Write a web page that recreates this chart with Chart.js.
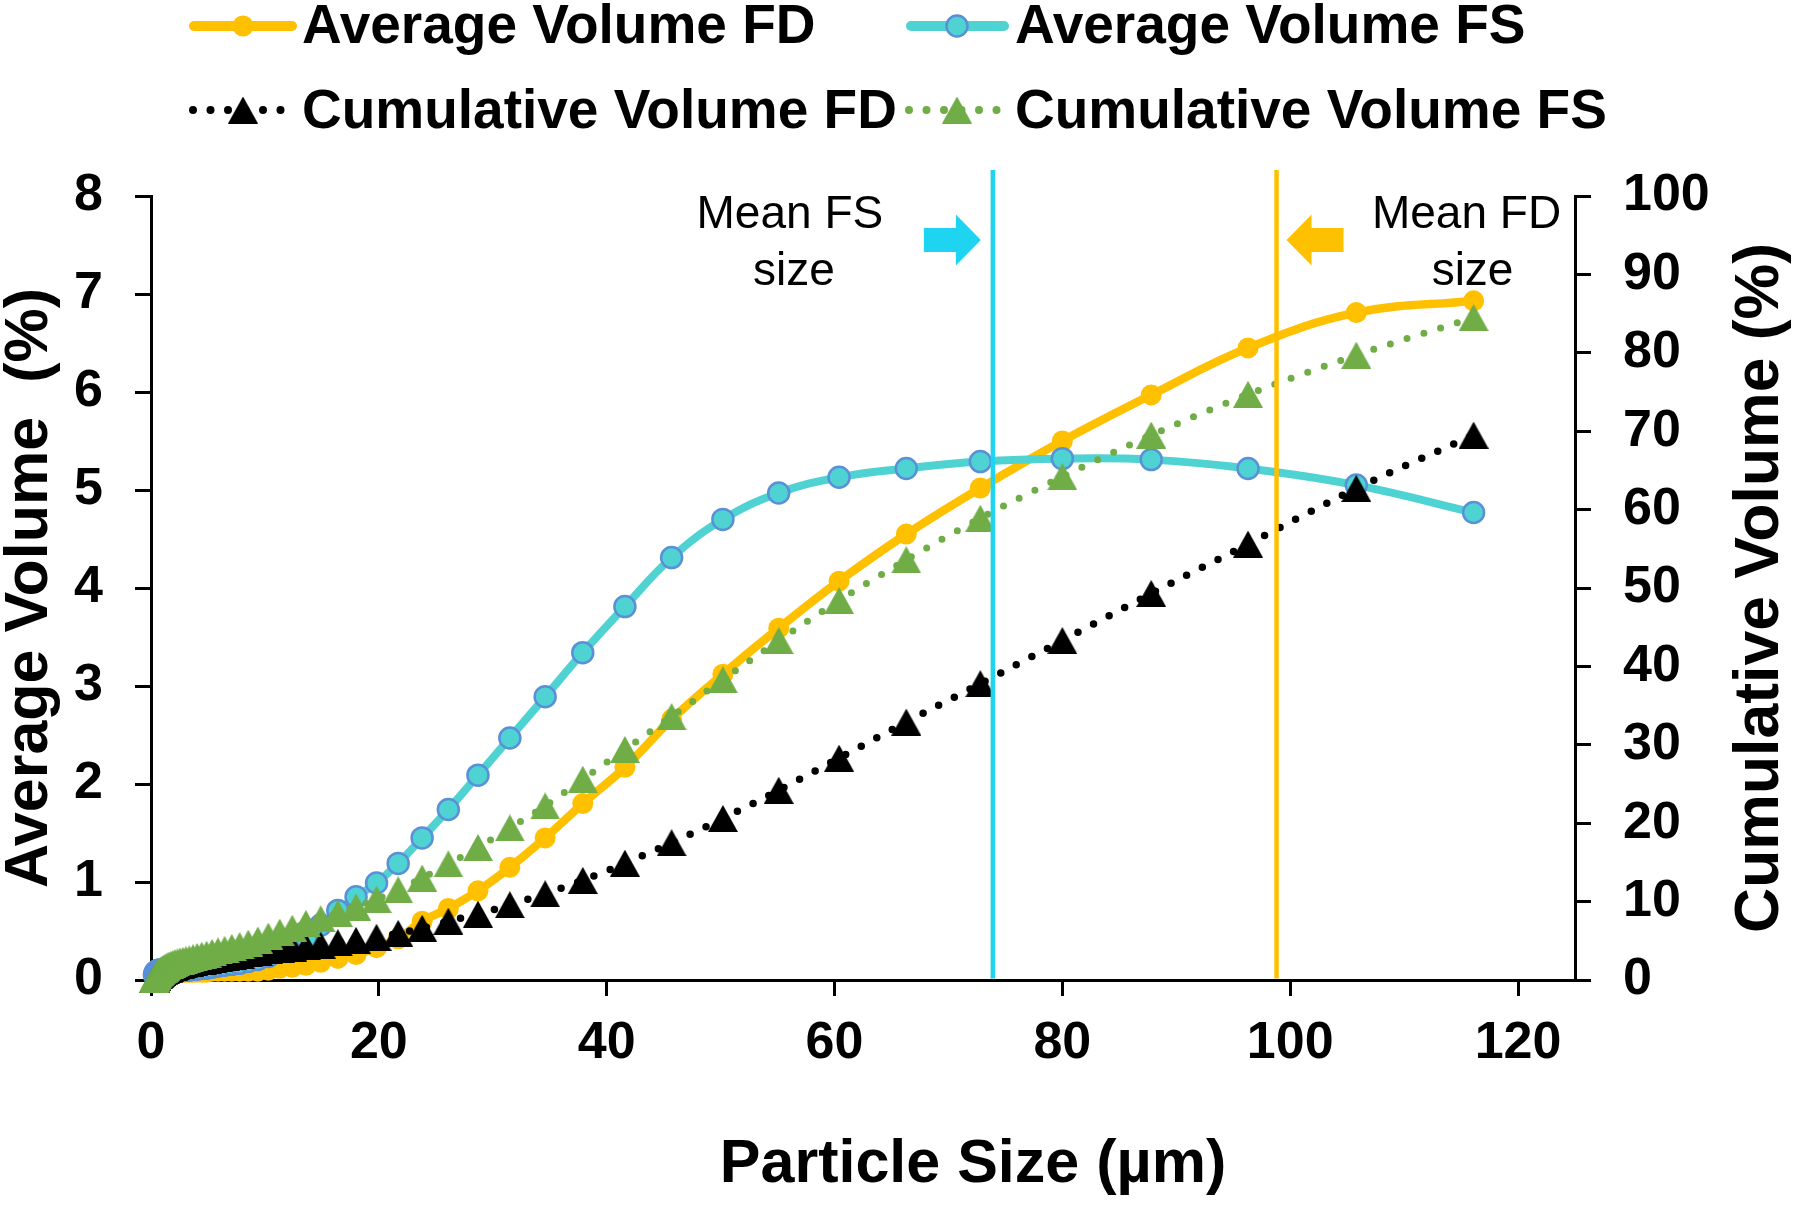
<!DOCTYPE html>
<html>
<head>
<meta charset="utf-8">
<script src="https://cdn.jsdelivr.net/npm/chart.js@4.4.1/dist/chart.umd.min.js"></script>
<style>
html,body{margin:0;padding:0;background:#ffffff;}
#wrap{width:1800px;height:1205px;position:relative;}
</style>
</head>
<body>
<div id="wrap"><canvas id="c" width="1800" height="1205"></canvas></div>
<script>
// ---------------- DATA ----------------
const particleSize = [0.30,0.33,0.36,0.40,0.44,0.48,0.53,0.58,0.63,0.69,0.76,0.84,0.92,1.01,1.10,1.21,1.33,1.46,1.60,1.75,
  1.92,2.11,2.32,2.54,2.79,3.06,3.36,3.69,4.05,4.45,4.88,5.36,5.88,6.46,7.09,7.78,8.54,9.38,10.3,11.3,
  12.4,13.6,14.9,16.4,18.0,19.8,21.7,23.8,26.1,28.7,31.5,34.6,37.9,41.6,45.7,50.2,55.1,60.4,66.3,72.8,
  80.0,87.8,96.3,105.8,116.1];
const avgVolumeFD = [0.03,0.03,0.04,0.04,0.05,0.05,0.06,0.06,0.07,0.07,0.07,0.08,0.08,0.08,0.08,0.08,0.08,0.08,0.08,0.08,
  0.08,0.08,0.08,0.08,0.08,0.08,0.08,0.08,0.08,0.08,0.08,0.09,0.09,0.09,0.09,0.09,0.09,0.09,0.10,0.12,
  0.13,0.15,0.18,0.22,0.26,0.33,0.42,0.60,0.73,0.91,1.15,1.45,1.80,2.17,2.66,3.12,3.59,4.07,4.55,5.02,
  5.50,5.97,6.45,6.81,6.93];
const avgVolumeFS = [0.05,0.06,0.07,0.08,0.08,0.09,0.09,0.09,0.10,0.10,0.10,0.10,0.10,0.10,0.10,0.10,0.10,0.10,0.10,0.10,
  0.10,0.10,0.10,0.10,0.10,0.10,0.10,0.11,0.11,0.12,0.12,0.13,0.14,0.15,0.16,0.17,0.19,0.21,0.24,0.29,
  0.35,0.43,0.56,0.71,0.85,0.99,1.19,1.45,1.74,2.09,2.47,2.89,3.34,3.81,4.31,4.70,4.97,5.13,5.22,5.29,
  5.32,5.31,5.22,5.05,4.77];
const cumVolumeFD = [0.05,0.12,0.20,0.28,0.36,0.44,0.52,0.60,0.68,0.76,0.84,0.92,1.00,1.08,1.16,1.24,1.32,1.40,1.48,1.56,
  1.64,1.72,1.80,1.88,1.96,2.05,2.14,2.23,2.32,2.42,2.52,2.63,2.75,2.88,3.02,3.17,3.33,3.50,3.70,3.90,
  4.05,4.25,4.45,4.75,5.05,5.45,5.95,6.60,7.50,8.40,9.60,11.0,12.7,14.9,17.5,20.6,24.2,28.3,32.9,37.8,
  43.3,49.3,55.6,62.7,69.5];
const cumVolumeFS = [0.10,0.20,0.30,0.40,0.50,0.60,0.70,0.80,0.90,1.00,1.10,1.20,1.30,1.40,1.50,1.60,1.70,1.80,1.90,2.00,
  2.10,2.20,2.30,2.40,2.50,2.60,2.70,2.85,3.00,3.15,3.30,3.50,3.70,3.90,4.15,4.40,4.70,5.10,5.60,6.10,
  6.60,7.20,7.80,8.50,9.30,10.3,11.5,13.0,14.8,16.9,19.4,22.2,25.6,29.4,33.6,38.3,43.3,48.4,53.6,58.9,
  64.2,69.5,74.7,79.7,84.5];
const meanSizeFS = 73.9;
const meanSizeFD = 98.8;
const xTicks = [0,20,40,60,80,100,120];
const leftTicks = [0,1,2,3,4,5,6,7,8];
const rightTicks = [0,10,20,30,40,50,60,70,80,90,100];
const seriesNames = ['Average Volume FD','Average Volume FS','Cumulative Volume FD','Cumulative Volume FS'];
const xTitle = 'Particle Size (µm)';
const yTitle = 'Average Volume  (%)';
const y1Title = 'Cumulative Volume (%)';
const noteFS = ['Mean FS','size'];
const noteFD = ['Mean FD','size'];

// ---------------- STYLE ----------------
const FONT = "'Liberation Sans', Arial, Helvetica, sans-serif";
const ORANGE = '#FFC000';
const TURQ = '#4FD3D2';
const TURQ_EDGE = '#5A90D8';
const GREEN = '#70AD47';
const BLACK = '#000000';
const CYAN = '#1ED4F0';

function triangleImage(color){
  const w = 30, h = 27;
  const c = document.createElement('canvas');
  c.width = w; c.height = h;
  const g = c.getContext('2d');
  g.fillStyle = color;
  g.beginPath();
  g.moveTo(w/2, 0); g.lineTo(w, h); g.lineTo(0, h); g.closePath();
  g.fill();
  return c;
}
const triGreen = triangleImage(GREEN);
const triBlack = triangleImage(BLACK);

const pts = ys => particleSize.map((x, i) => ({x: x, y: ys[i]}));

function drawArrow(ctx, tipX, y, dir, color){
  // dir = +1 points right, -1 points left
  const headLen = 25, shaftLen = 32, headHalf = 25.5, shaftHalf = 12;
  ctx.save();
  ctx.fillStyle = color;
  ctx.beginPath();
  ctx.moveTo(tipX, y);
  ctx.lineTo(tipX - dir*headLen, y - headHalf);
  ctx.lineTo(tipX - dir*headLen, y - shaftHalf);
  ctx.lineTo(tipX - dir*(headLen+shaftLen), y - shaftHalf);
  ctx.lineTo(tipX - dir*(headLen+shaftLen), y + shaftHalf);
  ctx.lineTo(tipX - dir*headLen, y + shaftHalf);
  ctx.lineTo(tipX - dir*headLen, y + headHalf);
  ctx.closePath();
  ctx.fill();
  ctx.restore();
}

const overlay = {
  id: 'overlay',
  afterDatasetsDraw(chart){
    const {ctx, chartArea, scales} = chart;
    const top = chartArea.top - 26;
    [[meanSizeFS, CYAN], [meanSizeFD, ORANGE]].forEach(([v, col]) => {
      const px = scales.x.getPixelForValue(v);
      ctx.save();
      ctx.strokeStyle = col;
      ctx.lineWidth = 4.5;
      ctx.beginPath();
      ctx.moveTo(px, top);
      ctx.lineTo(px, chartArea.bottom - 1.5);
      ctx.stroke();
      ctx.restore();
    });
  },
  afterDraw(chart){
    const {ctx, chartArea, scales} = chart;
    const pFS = scales.x.getPixelForValue(meanSizeFS);
    const pFD = scales.x.getPixelForValue(meanSizeFD);
    const ay = chartArea.top + 44;
    drawArrow(ctx, pFS - 12, ay, 1, CYAN);
    drawArrow(ctx, pFD + 10, ay, -1, ORANGE);

    ctx.save();
    ctx.fillStyle = '#000';
    ctx.font = "46px " + FONT;
    ctx.textAlign = 'center';
    ctx.textBaseline = 'alphabetic';
    ctx.fillText(noteFS[0], pFS - 203, chartArea.top + 32);
    ctx.fillText(noteFS[1], pFS - 199, chartArea.top + 89);
    ctx.fillText(noteFD[0], pFD + 190, chartArea.top + 32);
    ctx.fillText(noteFD[1], pFD + 196, chartArea.top + 89);
    ctx.restore();

    // x axis title
    ctx.save();
    ctx.fillStyle = '#000';
    ctx.font = "bold 61px " + FONT;
    ctx.textAlign = 'center';
    ctx.textBaseline = 'middle';
    ctx.fillText(xTitle, chartArea.left + 822, chartArea.bottom + 185);
    // right axis title (reads bottom to top)
    ctx.font = "bold 62.5px " + FONT;
    ctx.translate(chartArea.right + 186, (chartArea.top + chartArea.bottom) / 2);
    ctx.rotate(-Math.PI / 2);
    ctx.fillText(y1Title, 0, 0);
    ctx.restore();

    // legend
    const cols = [{x0: 194, x1: 292, d0: 193, d1: 286, mx: 243, tx: 302},
                  {x0: 911, x1: 1004, d0: 909, d1: 1002, mx: 957, tx: 1015}];
    const rowY = [26, 110];
    const rowBase = [43, 128];
    const items = [
      {name: seriesNames[0], col: 0, row: 0, kind: 'solid', color: ORANGE, width: 10, marker: 'circle', fill: ORANGE, edge: null},
      {name: seriesNames[1], col: 1, row: 0, kind: 'solid', color: TURQ, width: 10, marker: 'circle', fill: TURQ, edge: TURQ_EDGE},
      {name: seriesNames[2], col: 0, row: 1, kind: 'dot', color: BLACK, width: 8, marker: triBlack},
      {name: seriesNames[3], col: 1, row: 1, kind: 'dot', color: GREEN, width: 8, marker: triGreen}
    ];
    items.forEach(it => {
      const c = cols[it.col], y = rowY[it.row];
      ctx.save();
      ctx.strokeStyle = it.color;
      ctx.lineWidth = it.width;
      ctx.lineCap = 'round';
      ctx.beginPath();
      if (it.kind === 'solid') {
        ctx.moveTo(c.x0, y); ctx.lineTo(c.x1, y);
      } else {
        ctx.setLineDash([0, 17.5]);
        ctx.moveTo(c.d0, y); ctx.lineTo(c.d1, y);
      }
      ctx.stroke();
      ctx.setLineDash([]);
      if (it.marker === 'circle') {
        ctx.beginPath();
        ctx.arc(c.mx, y, 10.5, 0, Math.PI * 2);
        ctx.fillStyle = it.fill;
        ctx.fill();
        if (it.edge) { ctx.lineWidth = 2.5; ctx.strokeStyle = it.edge; ctx.stroke(); }
      } else {
        ctx.drawImage(it.marker, c.mx - it.marker.width / 2, y - it.marker.height / 2);
      }
      ctx.fillStyle = '#000';
      ctx.font = "bold 55px " + FONT;
      ctx.textAlign = 'left';
      ctx.textBaseline = 'alphabetic';
      ctx.fillText(it.name, c.tx, rowBase[it.row]);
      ctx.restore();
    });
  }
};

const tickFont = {family: FONT, size: 52, weight: 'bold', lineHeight: 1.2};
const axisGrid = {display: true, drawOnChartArea: false, drawTicks: true, tickLength: 16, lineWidth: 3, color: '#000'};
const axisBorder = {display: true, width: 3, color: '#000'};

new Chart(document.getElementById('c'), {
  type: 'line',
  data: {
    datasets: [
      {label: seriesNames[3], data: pts(cumVolumeFS), yAxisID: 'y1', order: 1,
       borderColor: GREEN, borderWidth: 7, borderDash: [0, 17.5], borderCapStyle: 'round',
       pointStyle: triGreen, pointRadius: 14, tension: 0.3, fill: false, clip: false},
      {label: seriesNames[2], data: pts(cumVolumeFD), yAxisID: 'y1', order: 2,
       borderColor: BLACK, borderWidth: 7.5, borderDash: [0, 17.5], borderCapStyle: 'round',
       pointStyle: triBlack, pointRadius: 14, tension: 0.3, fill: false, clip: false},
      {label: seriesNames[1], data: pts(avgVolumeFS), yAxisID: 'y', order: 3,
       borderColor: TURQ, borderWidth: 8, pointRadius: 10.5, pointBorderWidth: 2.5,
       pointBackgroundColor: TURQ, pointBorderColor: TURQ_EDGE, tension: 0.4, fill: false, clip: false},
      {label: seriesNames[0], data: pts(avgVolumeFD), yAxisID: 'y', order: 4,
       borderColor: ORANGE, borderWidth: 8.5, pointRadius: 10.5, pointBorderWidth: 0,
       pointBackgroundColor: ORANGE, pointBorderColor: ORANGE, tension: 0.4, fill: false, clip: false}
    ]
  },
  options: {
    responsive: false,
    devicePixelRatio: 1,
    animation: false,
    events: [],
    layout: {padding: {top: 196, left: 0, right: 0, bottom: 0}},
    plugins: {legend: {display: false}, tooltip: {enabled: false}, title: {display: false}},
    scales: {
      x: {
        type: 'linear', position: 'bottom', min: 0, max: 125,
        afterBuildTicks: s => { s.ticks = xTicks.map(v => ({value: v})); },
        afterFit: s => { s.height = 225; },
        grid: axisGrid, border: axisBorder,
        ticks: {font: tickFont, color: '#000', padding: 16, autoSkip: false, maxRotation: 0}
      },
      y: {
        type: 'linear', position: 'left', min: 0, max: 8,
        afterBuildTicks: s => { s.ticks = leftTicks.map(v => ({value: v})); },
        afterFit: s => { s.width = 151; },
        grid: axisGrid, border: axisBorder,
        ticks: {font: tickFont, color: '#000', padding: 32},
        title: {display: true, text: yTitle, color: '#000',
                font: {family: FONT, size: 61, weight: 'bold', lineHeight: 1}, padding: {top: 0, bottom: 0}}
      },
      y1: {
        type: 'linear', position: 'right', min: 0, max: 100,
        afterBuildTicks: s => { s.ticks = rightTicks.map(v => ({value: v})); },
        afterFit: s => { s.width = 225; },
        grid: axisGrid, border: axisBorder,
        ticks: {font: tickFont, color: '#000', padding: 32}
      }
    }
  },
  plugins: [overlay]
});
</script>
</body>
</html>
